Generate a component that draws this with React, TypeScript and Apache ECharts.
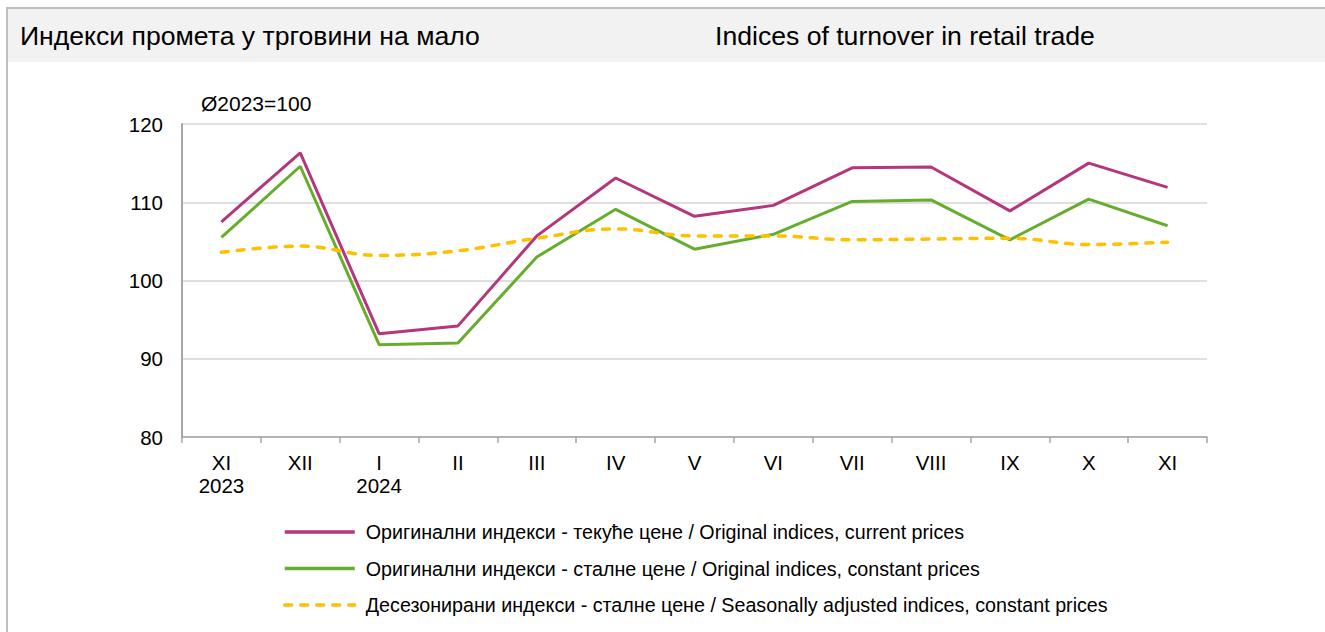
import React, { useEffect, useRef } from "react";
import * as echarts from "echarts";

const categories = ["XI\n2023", "XII", "I\n2024", "II", "III", "IV", "V", "VI", "VII", "VIII", "IX", "X", "XI"];
const currentPrices = [107.5, 116.3, 93.2, 94.2, 105.7, 113.1, 108.2, 109.6, 114.4, 114.5, 108.9, 115.0, 111.9];
const constantPrices = [105.5, 114.6, 91.8, 92.0, 103.0, 109.1, 104.0, 105.9, 110.1, 110.3, 105.2, 110.4, 107.0];
const seasonallyAdjusted = [103.6, 104.4, 103.2, 103.8, 105.4, 106.6, 105.7, 105.7, 105.2, 105.3, 105.4, 104.6, 104.9];

const seriesNames = [
  "Оригинални индекси - текуће цене / Original indices, current prices",
  "Оригинални индекси - сталне цене / Original indices, constant prices",
  "Десезонирани индекси - сталне цене / Seasonally adjusted indices, constant prices",
];
const titleSr = "Индекси промета у трговини на мало";
const titleEn = "Indices of turnover in retail trade";
const baseNote = "Ø2023=100";

const FONT = "'Liberation Sans', Arial, sans-serif";

export default function App() {
  const ref = useRef<HTMLDivElement>(null);
  useEffect(() => {
    if (!ref.current) return;
    const chart = echarts.init(ref.current, null, { renderer: "svg" });
    chart.setOption({
      animation: false,
      backgroundColor: "#ffffff",
      textStyle: { fontFamily: FONT, color: "#000" },
      graphic: [
        { type: "rect", shape: { x: 7, y: 9, width: 1318, height: 53 }, style: { fill: "#f2f2f2" }, silent: true },
        { type: "line", shape: { x1: 6, y1: 8, x2: 1325, y2: 8 }, style: { stroke: "#bfbfbf", lineWidth: 2 }, silent: true },
        { type: "line", shape: { x1: 7, y1: 7, x2: 7, y2: 632 }, style: { stroke: "#bfbfbf", lineWidth: 2 }, silent: true },
        { type: "text", x: 20, y: 36, style: { text: titleSr, font: `26.6px ${FONT}`, fill: "#000", verticalAlign: "middle" } },
        { type: "text", x: 715, y: 36, style: { text: titleEn, font: `26.6px ${FONT}`, fill: "#000", verticalAlign: "middle" } },
        { type: "text", x: 201, y: 103, style: { text: baseNote, font: `21px ${FONT}`, fill: "#000", verticalAlign: "middle" } },
      ],
      grid: { left: 182, right: 118, top: 124, bottom: 195, containLabel: false },
      legend: {
        orient: "vertical",
        left: 278,
        top: 517,
        itemWidth: 70,
        itemHeight: 14,
        itemGap: 16.5,
        lineStyle: { width: 3.5 },
        itemStyle: { opacity: 0 },
        textStyle: { fontFamily: FONT, fontSize: 19.7, lineHeight: 20, color: "#000", padding: [0, 0, 0, 6] },
        data: seriesNames,
      },
      xAxis: {
        type: "category",
        data: categories,
        boundaryGap: true,
        axisLine: { lineStyle: { color: "#a6a6a6", width: 1.5 } },
        axisTick: { show: true, length: 6, lineStyle: { color: "#a6a6a6", width: 1.5 } },
        axisLabel: { fontFamily: FONT, fontSize: 20.5, lineHeight: 23, color: "#000", margin: 14, interval: 0 },
      },
      yAxis: {
        type: "value",
        min: 80,
        max: 120,
        interval: 10,
        axisLine: { show: true, lineStyle: { color: "#a6a6a6", width: 2 } },
        axisTick: { show: false },
        axisLabel: { fontFamily: FONT, fontSize: 20.5, color: "#000", margin: 19 },
        splitLine: { lineStyle: { color: "#d4d4d4", width: 1.5 } },
      },
      series: [
        {
          name: seriesNames[0],
          type: "line",
          data: currentPrices,
          symbol: "none",
          color: "#b5367b",
          lineStyle: { color: "#b5367b", width: 3 },
        },
        {
          name: seriesNames[1],
          type: "line",
          data: constantPrices,
          symbol: "none",
          color: "#66ad2e",
          lineStyle: { color: "#66ad2e", width: 3 },
        },
        {
          name: seriesNames[2],
          type: "line",
          data: seasonallyAdjusted,
          symbol: "none",
          smooth: 0.4,
          color: "#ffc000",
          lineStyle: { color: "#ffc000", width: 3.5, type: [7, 9], cap: "round" },
        },
      ],
    });
    return () => chart.dispose();
  }, []);
  return (
    <div
      ref={ref}
      style={{ position: "absolute", left: 0, top: 0, width: 1325, height: 632, background: "#fff" }}
    />
  );
}
